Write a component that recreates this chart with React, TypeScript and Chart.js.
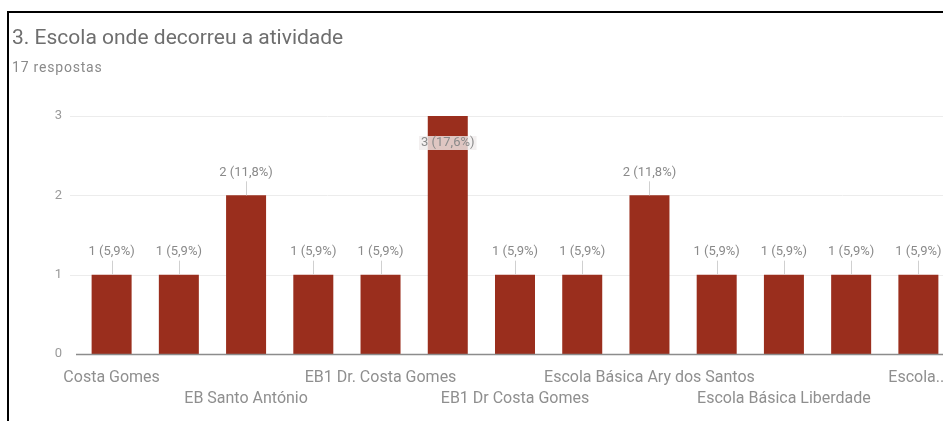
import React, { useEffect, useRef } from 'react';
import { Chart, registerables } from 'chart.js';

Chart.register(...registerables);

const titleText = '3. Escola onde decorreu a atividade';
const subtitleText = '17 respostas';

const categories = [
  'Costa Gomes',
  'EB Quinta do Conde',
  'EB Santo António',
  'EB Fernão Pó',
  'EB1 Dr. Costa Gomes',
  'EB1 Vale de Milhaços',
  'EB1 Dr Costa Gomes',
  'Escola Básica Amora',
  'Escola Básica Ary dos Santos',
  'Escola Básica Corroios',
  'Escola Básica Liberdade',
  'Escola Básica Paivas',
  'Escola Secundária',
];
const counts = [1, 1, 2, 1, 1, 3, 1, 1, 2, 1, 1, 1, 1];
const yTicks = [0, 1, 2, 3];

const BAR_COLOR = '#9a2e1d';
const FONT = 'Roboto';

const total = counts.reduce((a, b) => a + b, 0);

const gridPlugin = {
  id: 'googleGrid',
  beforeDatasetsDraw(chart: any) {
    const { ctx, scales } = chart;
    const y = scales.y;
    ctx.save();
    ctx.strokeStyle = '#ececec';
    ctx.lineWidth = 1;
    yTicks.forEach((t) => {
      if (t === 0) return;
      const py = Math.round(y.getPixelForValue(t)) + 0.5;
      ctx.beginPath();
      ctx.moveTo(70, py);
      ctx.lineTo(chart.width, py);
      ctx.stroke();
    });
    ctx.restore();
  },
  afterDatasetsDraw(chart: any) {
    const { ctx, scales } = chart;
    const y = scales.y;
    const py = Math.round(y.getPixelForValue(0)) + 0.5;
    ctx.save();
    ctx.strokeStyle = '#8c8c8c';
    ctx.lineWidth = 1.5;
    ctx.beginPath();
    ctx.moveTo(76, py);
    ctx.lineTo(chart.width, py);
    ctx.stroke();
    ctx.restore();
  },
};

const labelPlugin = {
  id: 'barLabels',
  afterDatasetsDraw(chart: any) {
    const { ctx, chartArea } = chart;
    const meta = chart.getDatasetMeta(0);
    ctx.save();
    ctx.font = `13px ${FONT}`;
    ctx.textAlign = 'center';
    ctx.textBaseline = 'middle';
    meta.data.forEach((bar: any, i: number) => {
      const v = counts[i];
      const pct = ((v / total) * 100).toFixed(1).replace('.', ',');
      const text = `${v} (${pct}%)`;
      const top = bar.y;
      const x = bar.x;
      if (top - 32 < chartArea.top - 10) {
        const cy = top + 27;
        const w = ctx.measureText(text).width;
        ctx.fillStyle = 'rgba(240,236,236,0.8)';
        ctx.fillRect(x - w / 2 - 2, cy - 7, w + 4, 14);
        ctx.fillStyle = '#8a8a8a';
        ctx.fillText(text, x, cy);
      } else {
        const cy = top - 23;
        ctx.strokeStyle = '#d0d0d0';
        ctx.lineWidth = 1;
        ctx.beginPath();
        ctx.moveTo(Math.round(x) + 0.5, cy + 9);
        ctx.lineTo(Math.round(x) + 0.5, top);
        ctx.stroke();
        ctx.fillStyle = '#8a8a8a';
        ctx.fillText(text, x, cy);
      }
    });
    ctx.restore();
  },
};

function BarChart() {
  const ref = useRef<HTMLCanvasElement | null>(null);
  useEffect(() => {
    if (!ref.current) return;
    const chart = new Chart(ref.current, {
      type: 'bar',
      data: {
        labels: categories,
        datasets: [
          {
            data: counts,
            backgroundColor: BAR_COLOR,
            borderWidth: 0,
            categoryPercentage: 1,
            barPercentage: 0.595,
          },
        ],
      },
      options: {
        animation: false,
        responsive: false,
        maintainAspectRatio: false,
        devicePixelRatio: 1,
        layout: { padding: { top: 116, right: 148, left: 0, bottom: 0 } },
        plugins: {
          legend: { display: false },
          tooltip: { enabled: false },
        },
        scales: {
          x: {
            grid: { display: false, drawTicks: false },
            border: { display: false },
            ticks: {
              autoSkip: false,
              maxRotation: 0,
              minRotation: 0,
              padding: 13,
              color: '#8f8f8f',
              font: { family: FONT, size: 16, lineHeight: 1.32 },
              callback: (_v: any, i: number) => {
                if (i % 2 === 1) return '';
                let name = categories[i];
                if (i === categories.length - 1) name = name.split(' ')[0] + '...';
                return i % 4 === 0 ? name : ['', name];
              },
            },
            afterFit: (s: any) => {
              s.height = 67;
            },
          },
          y: {
            min: yTicks[0],
            max: yTicks[yTicks.length - 1],
            grid: { display: false, drawTicks: false },
            border: { display: false },
            ticks: {
              stepSize: 1,
              padding: 16,
              color: '#9a9a9a',
              font: { family: FONT, size: 13 },
            },
            afterFit: (s: any) => {
              s.width = 78;
            },
          },
        },
      },
      plugins: [gridPlugin, labelPlugin],
    });
    return () => chart.destroy();
  }, []);
  return (
    <canvas
      ref={ref}
      width={1100}
      height={421}
      style={{ position: 'absolute', left: 0, top: 0, width: 1100, height: 421 }}
    />
  );
}

export default function App() {
  return (
    <div
      style={{
        position: 'fixed',
        left: 0,
        top: 0,
        width: 943,
        height: 421,
        overflow: 'hidden',
        background: '#fff',
        fontFamily: FONT,
      }}
    >
      <div
        style={{
          position: 'absolute',
          left: 7,
          top: 11,
          width: 2000,
          height: 2000,
          borderTop: '2px solid #000',
          borderLeft: '2px solid #000',
        }}
      />
      <BarChart />
      <div
        style={{
          position: 'absolute',
          left: 12,
          top: 26,
          fontSize: 21,
          lineHeight: '22px',
          color: '#6e6e6e',
          whiteSpace: 'nowrap',
        }}
      >
        {titleText}
      </div>
      <div
        style={{
          position: 'absolute',
          left: 12,
          top: 60,
          fontSize: 14,
          lineHeight: '15px',
          letterSpacing: '0.8px',
          color: '#8a8a8a',
          whiteSpace: 'nowrap',
        }}
      >
        {subtitleText}
      </div>
    </div>
  );
}
